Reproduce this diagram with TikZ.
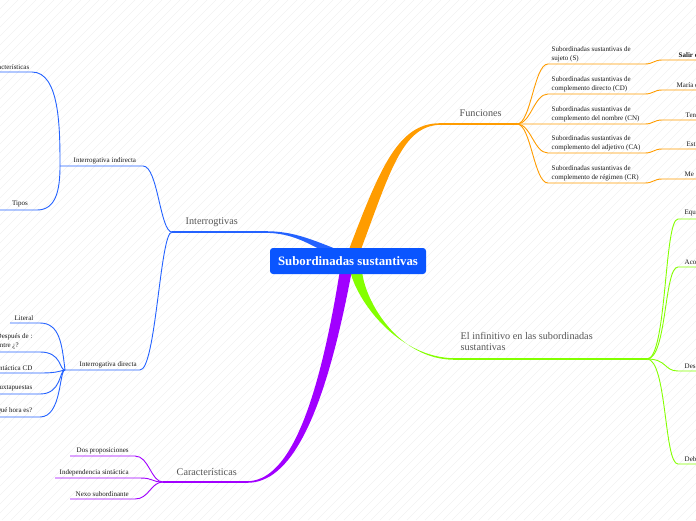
\documentclass[tikz,border=0pt]{standalone}
\usepackage{fontspec}
\setmainfont{Liberation Serif}
\usetikzlibrary{positioning,calc}
\definecolor{rootblue}{HTML}{0A55FF}
\definecolor{bblue}{HTML}{2462FF}
\definecolor{borange}{HTML}{FF9C00}
\definecolor{bgreen}{HTML}{84FF00}
\definecolor{bpurple}{HTML}{A100FF}
\definecolor{txtgray}{HTML}{555555}

\begin{document}
\begin{tikzpicture}[x=1pt, y=-1pt,
    leaf/.style={font=\fontsize{7}{9}\selectfont, text=black!90, inner sep=0.5pt, align=left},
    topic/.style={font=\fontsize{10.2}{10.6}\selectfont, text=txtgray, inner sep=0.5pt, align=left},
    twig/.style={line width=0.9pt},
    stem/.style={line width=1.4pt}]
  \useasboundingbox (0,0) rectangle (696,520);
  \clip (0,0) rectangle (696,520);
  \foreach \i in {-520,-511,...,700} \draw[black!5, line width=0.4pt] (\i,520) -- ++(520,-520);

  \coordinate (c) at (348,261);
  \coordinate (funhub) at (517,124);
  \coordinate (infhub) at (647,359);
  \coordinate (inthub) at (172,232);
  \coordinate (carhub) at (163,482);
  \coordinate (indhub) at (60,166);
  \coordinate (dirhub) at (65,370);
  \coordinate (fun0) at (440,124);
  \coordinate (inf0) at (455,359);
  \coordinate (int0) at (265,232);
  \coordinate (car0) at (247,482);

  % main branches
  \fill[borange] (348,252) .. controls (380,168) and (398,123.2) .. ([yshift=0.8pt]fun0) -- ([yshift=-0.8pt]fun0) .. controls (402,126) and (390,172) .. (360,252) -- cycle;
  \draw[borange, stem] (fun0) -- (funhub);
  \fill[bgreen] (350,270) .. controls (356,300) and (398,358.2) .. ([yshift=0.8pt]inf0) -- ([yshift=-0.8pt]inf0) .. controls (398,360) and (364,300) .. (362,270) -- cycle;
  \draw[bgreen, stem] (inf0) -- (infhub);
  \fill[bblue] (336,249) .. controls (306,237) and (290,231.2) .. ([yshift=0.8pt]int0) -- ([yshift=-0.8pt]int0) .. controls (292,233) and (308,243) .. (332,256) -- cycle;
  \draw[bblue, stem] (int0) -- (inthub);
  \fill[bpurple] (340,270) .. controls (316,420) and (285,481.2) .. ([yshift=0.8pt]car0) -- ([yshift=-0.8pt]car0) .. controls (290,483) and (324,420) .. (352,270) -- cycle;
  \draw[bpurple, stem] (car0) -- (carhub);

  \node (root) [fill=rootblue, rounded corners=3pt, minimum width=156pt, minimum height=26pt, text=white, font=\bfseries\fontsize{12.8}{14}\selectfont] at (c) {Subordinadas sustantivas};

  \node (funciones) [topic, anchor=south west] at (459,117) {Funciones};
  \node (infinitivo) [topic, anchor=south west] at (460,351) {El infinitivo en las subordinadas\\sustantivas};
  \node (interrog) [topic, anchor=south west] at (185,227) {Interrogtivas};
  \node (caract) [topic, anchor=south west] at (176,476) {Características};

  % funciones
  \foreach \y/\t/\s/\sx [count=\i] in {
      64/{Subordinadas sustantivas de\\sujeto (S)}/{\textbf{Salir d}}/678,
      94/{Subordinadas sustantivas de\\complemento directo (CD)}/{María d}/676,
      124/{Subordinadas sustantivas de\\complemento del nombre (CN)}/{Ten}/685,
      153/{Subordinadas sustantivas de\\complemento del adjetivo (CA)}/{Est}/686,
      183/{Subordinadas sustantivas de\\complemento de régimen (CR)}/{Me}/684}{
    \coordinate (fa\i) at (548,\y);
    \coordinate (fb\i) at (645,\y);
    \coordinate (fc\i) at (662,\y-4);
    \coordinate (fd\i) at (700,\y-4);
    \node (fn\i) [leaf, anchor=south west] at (551,\y-1.5) {\t};
    \node (fx\i) [leaf, anchor=south west] at (\sx,\y-5.5) {\s};
    \draw[borange, twig] (funhub) .. controls +(14,0) and +(-14,0) .. (fa\i) -- (fb\i) .. controls +(8,0) and +(-8,0) .. (fc\i) -- (fd\i);
  }

  % infinitivo
  \foreach \y/\t [count=\i] in {219/Equ, 267/Aco, 371/Des, 464/Deb}{
    \coordinate (ga\i) at (678,\y);
    \coordinate (gb\i) at (700,\y);
    \node (gn\i) [leaf, anchor=south west] at (684,\y-2) {\t};
    \draw[bgreen, twig] (infhub) .. controls +(20,0) and +(-14,0) .. (ga\i) -- (gb\i);
  }

  % interrogativas
  \coordinate (ia) at (143,166);
  \coordinate (ib) at (140,370);
  \node (indirecta) [leaf, anchor=south west] at (73,164.5) {Interrogativa indirecta};
  \node (directa) [leaf, anchor=south west] at (79,368.5) {Interrogativa directa};
  \draw[bblue, twig] (inthub) .. controls (160,232) and (158,166) .. (ia) -- (indhub);
  \draw[bblue, twig] (inthub) .. controls (160,232) and (156,370) .. (ib) -- (dirhub);

  \coordinate (ka) at (32,72);
  \coordinate (kb) at (-5,72);
  \coordinate (ta) at (37,210);
  \coordinate (tb) at (-5,210);
  \node (caracs) [leaf, anchor=south east] at (30,70) {Características};
  \node (tipos) [leaf, anchor=south east] at (28.5,208) {Tipos};
  \draw[bblue, twig] (indhub) .. controls (60,130) and (60,72) .. (ka) -- (kb);
  \draw[bblue, twig] (indhub) .. controls (60,190) and (56,210) .. (ta) -- (tb);

  \foreach \y/\t/\n [count=\i] in {352/{}/dp, 373/{sintáctica CD}/sc, 394/{Yuxtapuestas}/yx, 417/{¿Qué hora es?}/qh}{
    \coordinate (da\i) at (40,\y);
    \coordinate (db\i) at (-5,\y);
    \node (\n) [leaf, anchor=south east] at (33,\y-2) {\t};
    \draw[bblue, twig] (dirhub) .. controls +(-6,0) and +(22,0) .. (da\i) -- (db\i);
  }
  \node (despues) [leaf, anchor=south west] at (-4,350) {Después de :\\entre ¿?};
  \coordinate (la) at (40,323);
  \coordinate (lb) at (10,323);
  \node (literal) [leaf, anchor=south east] at (34,321) {Literal};
  \draw[bblue, twig] (dirhub) .. controls (62,345) and (60,323) .. (la) -- (lb);

  % caracteristicas
  \foreach \y/\t/\xa/\xb/\xt [count=\i] in {456/Dos proposiciones/135/70/76, 478/Independencia sintáctica/140/55/59, 499/Nexo subordinante/135/70/75}{
    \coordinate (pa\i) at (\xa,\y);
    \coordinate (pb\i) at (\xb,\y);
    \node (pn\i) [leaf, anchor=south west] at (\xt,\y-1.5) {\t};
    \draw[bpurple, twig] (carhub) .. controls +(-12,0) and +(14,0) .. (pa\i) -- (pb\i);
  }
\end{tikzpicture}
\end{document}
